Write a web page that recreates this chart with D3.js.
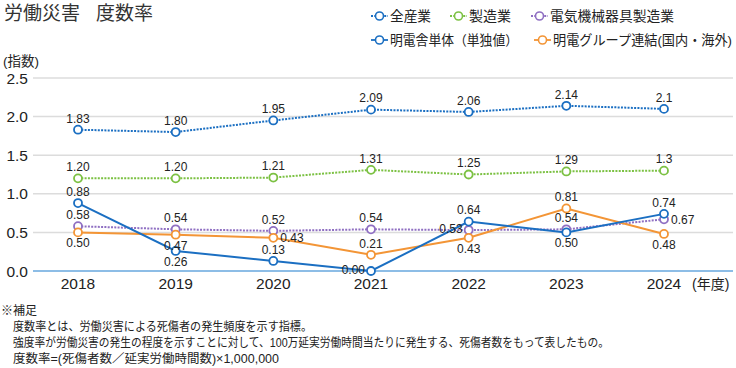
<!DOCTYPE html>
<html><head><meta charset="utf-8">
<script src="https://cdn.jsdelivr.net/npm/d3@7"></script>
<style>
html,body{margin:0;padding:0;background:#fff;}
svg{display:block;font-family:"Liberation Sans","Noto Sans CJK JP",sans-serif;}
</style></head>
<body><svg id="c" width="736" height="368"></svg>
<script>
const years = ["2018","2019","2020","2021","2022","2023","2024"];
const yTicks = [0, 0.5, 1.0, 1.5, 2.0, 2.5];

const allIndustry = [1.83, 1.80, 1.95, 2.09, 2.06, 2.14, 2.1];
const allIndustryLabels = ["1.83","1.80","1.95","2.09","2.06","2.14","2.1"];
const allIndustrySides = ["a","a","a","a","a","a","a"];

const manufacturing = [1.20, 1.20, 1.21, 1.31, 1.25, 1.29, 1.3];
const manufacturingLabels = ["1.20","1.20","1.21","1.31","1.25","1.29","1.3"];
const manufacturingSides = ["a","a","a","a","a","a","a"];

const electrical = [0.58, 0.54, 0.52, 0.54, 0.53, 0.54, 0.67];
const electricalLabels = ["0.58","0.54","0.52","0.54","0.53","0.54","0.67"];
const electricalSides = ["a","a","a","a","l","a","r"];

const meidenSingle = [0.88, 0.26, 0.13, 0.00, 0.64, 0.50, 0.74];
const meidenSingleLabels = ["0.88","0.26","0.13","0.00","0.64","0.50","0.74"];
const meidenSingleSides = ["a","b","a","l","a","b","a"];

const meidenGroup = [0.50, 0.47, 0.43, 0.21, 0.43, 0.81, 0.48];
const meidenGroupLabels = ["0.50","0.47","0.43","0.21","0.43","0.81","0.48"];
const meidenGroupSides = ["b","b","r","a","b","a","b"];

const seriesNames = ["全産業","製造業","電気機械器具製造業","明電舎単体（単独値）","明電グループ連結(国内・海外)"];

const series = [
  {name: seriesNames[2], values: electrical, labels: electricalLabels, sides: electricalSides, color:"#8f6fc2", dotted:true},
  {name: seriesNames[4], values: meidenGroup, labels: meidenGroupLabels, sides: meidenGroupSides, color:"#f39536", dotted:false},
  {name: seriesNames[3], values: meidenSingle, labels: meidenSingleLabels, sides: meidenSingleSides, color:"#1b6fc2", dotted:false},
  {name: seriesNames[1], values: manufacturing, labels: manufacturingLabels, sides: manufacturingSides, color:"#7cc143", dotted:true},
  {name: seriesNames[0], values: allIndustry, labels: allIndustryLabels, sides: allIndustrySides, color:"#1b6fc2", dotted:true}
];

const svg = d3.select("#c");
const x = d3.scalePoint().domain(years).range([78, 664]);
const y = d3.scaleLinear().domain([0, 2.5]).range([271, 78]);

// title
svg.append("text").attr("x",4).attr("y",20).attr("font-size",19).attr("fill","#333").text("労働災害");
svg.append("text").attr("x",96).attr("y",20).attr("font-size",19).attr("fill","#333").text("度数率");
svg.append("text").attr("x",3).attr("y",66).attr("font-size",13.5).attr("fill","#222").text("(指数)");

// grid
svg.append("g").selectAll("line").data(yTicks.filter(d=>d>0)).join("line")
  .attr("x1",33).attr("x2",733).attr("y1",d=>y(d)).attr("y2",d=>y(d))
  .attr("stroke","#dcdcdc").attr("stroke-width",1.5);
svg.append("line").attr("x1",33).attr("x2",733).attr("y1",y(0)).attr("y2",y(0))
  .attr("stroke","#8dbde6").attr("stroke-width",2.2);

// y labels
svg.append("g").selectAll("text").data(yTicks).join("text")
  .attr("x",28).attr("y",d=>y(d)).attr("dy","0.36em").attr("text-anchor","end")
  .attr("font-size",15.5).attr("fill","#222").text(d=>d3.format(".1f")(d));

// x labels
svg.append("g").selectAll("text").data(years).join("text")
  .attr("x",d=>x(d)).attr("y",289).attr("text-anchor","middle")
  .attr("font-size",15.5).attr("fill","#222").text(d=>d);
svg.append("text").attr("x",692).attr("y",289).attr("font-size",14).attr("fill","#222").text("(年度)");

// lines
const line = d3.line().x((d,i)=>x(years[i])).y(d=>y(d));
series.forEach(s=>{
  svg.append("path").datum(s.values).attr("d",line).attr("fill","none")
    .attr("stroke",s.color).attr("stroke-width",2)
    .attr("stroke-dasharray",s.dotted?"2,1.3":null);
});
series.forEach(s=>{
  svg.append("g").selectAll("circle").data(s.values).join("circle")
    .attr("cx",(d,i)=>x(years[i])).attr("cy",d=>y(d)).attr("r",4)
    .attr("fill","#fff").attr("stroke",s.color).attr("stroke-width",1.8);
});
series.forEach(s=>{
  svg.append("g").selectAll("text").data(s.values).join("text")
    .attr("x",(d,i)=>{const cx=x(years[i]);const sd=s.sides[i];return sd==="l"?cx-6:sd==="r"?cx+7:cx;})
    .attr("y",(d,i)=>{const cy=y(d);const sd=s.sides[i];return sd==="a"?cy-11.5:sd==="b"?cy+10.5:sd==="l"?cy-1:cy;})
    .attr("dy","0.36em")
    .attr("text-anchor",(d,i)=>s.sides[i]==="l"?"end":s.sides[i]==="r"?"start":"middle")
    .attr("font-size",12).attr("fill","#222")
    .text((d,i)=>s.labels[i]);
});

// legend
const legendItems = [
  {name: seriesNames[0], color:"#1b6fc2", dotted:true, lx:371, ly:16, w:41},
  {name: seriesNames[1], color:"#7cc143", dotted:true, lx:450, ly:16, w:42},
  {name: seriesNames[2], color:"#8f6fc2", dotted:true, lx:531, ly:16, w:124},
  {name: seriesNames[3], color:"#1b6fc2", dotted:false, lx:371, ly:40, w:128},
  {name: seriesNames[4], color:"#f39536", dotted:false, lx:534, ly:40, w:179}
];
const lg = svg.append("g").selectAll("g").data(legendItems).join("g")
  .attr("transform",d=>`translate(${d.lx},${d.ly})`);
lg.append("line").attr("x1",0).attr("x2",17).attr("y1",0).attr("y2",0)
  .attr("stroke",d=>d.color).attr("stroke-width",1.8).attr("stroke-dasharray",d=>d.dotted?"2,1.3":null);
lg.append("circle").attr("cx",8.5).attr("cy",0).attr("r",4).attr("fill","#fff")
  .attr("stroke",d=>d.color).attr("stroke-width",1.6);
lg.append("text").attr("x",19).attr("y",0).attr("dy","0.36em").attr("font-size",13.5).attr("fill","#222")
  .attr("textLength",d=>d.w).attr("lengthAdjust","spacingAndGlyphs").text(d=>d.name);

// footnote
const notes = ["度数率とは、労働災害による死傷者の発生頻度を示す指標。",
  "強度率が労働災害の発生の程度を示すことに対して、100万延実労働時間当たりに発生する、死傷者数をもって表したもの。",
  "度数率=(死傷者数／延実労働時間数)×1,000,000"];
const noteWidths = [299, 596, 266];
svg.append("text").attr("x",1).attr("y",315).attr("font-size",12).attr("fill","#222").text("※補足");
svg.append("g").selectAll("text").data(notes).join("text")
  .attr("x",13).attr("y",(d,i)=>331+i*16).attr("font-size",12).attr("fill","#222")
  .attr("textLength",(d,i)=>noteWidths[i]).attr("lengthAdjust","spacingAndGlyphs").text(d=>d);
</script></body></html>
